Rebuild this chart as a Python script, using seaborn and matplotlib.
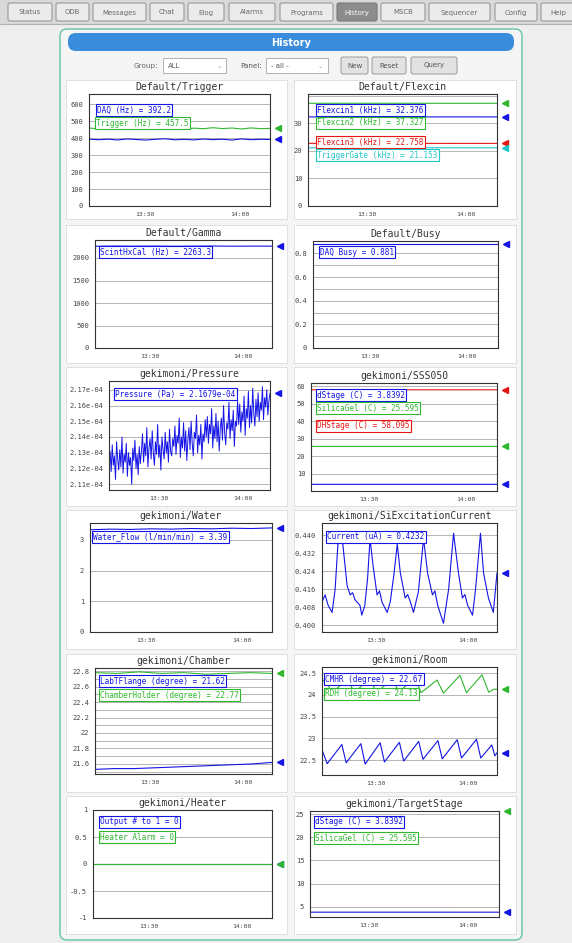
import numpy as np
import pandas as pd
import matplotlib
matplotlib.use("Agg")
import matplotlib.pyplot as plt
import matplotlib.transforms as mtransforms
from matplotlib.patches import FancyBboxPatch, Rectangle
from matplotlib.ticker import FixedLocator, FixedFormatter, MultipleLocator, NullFormatter
import seaborn as sns

sns.set_theme(style="white")
plt.rcParams["font.family"] = ["DejaVu Sans Mono", "DejaVu Sans"]
UI_FONT = ["DejaVu Sans"]

W, H = 572, 943

# ---------------- page chrome ----------------
nav_tabs = ["Status", "ODB", "Messages", "Chat", "Elog", "Alarms", "Programs",
            "History", "MSCB", "Sequencer", "Config", "Help"]
nav_active = "History"
page_title = "History"
group_label, group_value = "Group:", "ALL"
panel_label, panel_value = "Panel:", "- all -"
action_buttons = ["New", "Reset", "Query"]

# ---------------- time axis (minutes after 13:00) ----------------
t_first, t_last = 12.3, 69.5
time_tick_minutes = [30, 60]
time_tick_labels = ["13:30", "14:00"]

# ---------------- Default/Trigger ----------------
trigger_names = ["DAQ (Hz)", "Trigger (Hz)"]
trigger_readouts = ["392.2", "457.5"]
trigger_daq = [394.1, 390.6, 393.8, 389.2, 395.0, 391.7, 388.9, 393.2, 396.1, 390.4,
               392.8, 389.6, 394.7, 391.1, 393.5, 388.7, 395.3, 390.9, 393.0, 392.2]
trigger_rate = [459.3, 455.1, 461.0, 453.8, 458.2, 456.4, 462.1, 454.6, 457.9, 460.3,
                452.7, 458.8, 455.5, 461.4, 456.2, 459.6, 453.9, 460.1, 455.8, 457.5]

# ---------------- Default/Flexcin ----------------
flex_names = ["Flexcin1 (kHz)", "Flexcin2 (kHz)", "Flexcin3 (kHz)", "TriggerGate (kHz)"]
flex_readouts = ["32.376", "37.327", "22.758", "21.153"]
flex_1 = [32.37, 32.38, 32.37, 32.38, 32.376]
flex_2 = [37.33, 37.32, 37.33, 37.32, 37.327]
flex_3 = [22.76, 22.75, 22.76, 22.75, 22.758]
flex_gate = [21.15, 21.16, 21.15, 21.16, 21.153]

# ---------------- Default/Gamma ----------------
gamma_names = ["ScintHxCal (Hz)"]
gamma_readouts = ["2263.3"]
gamma_rate = [2261.0, 2265.2, 2262.4, 2264.8, 2260.9, 2263.7, 2266.1, 2262.0, 2264.3, 2263.3]

# ---------------- Default/Busy ----------------
busy_names = ["DAQ Busy"]
busy_readouts = ["0.881"]
busy_frac = [0.881, 0.881, 0.881, 0.881, 0.881]

# ---------------- gekimoni/Pressure (x 1e-4 Pa) ----------------
pressure_names = ["Pressure (Pa)"]
pressure_readouts = ["2.1679e-04"]
pressure_e4 = [
    2.124, 2.131, 2.118, 2.135, 2.122, 2.128, 2.113, 2.137, 2.126, 2.119,
    2.132, 2.121, 2.140, 2.117, 2.129, 2.124, 2.136, 2.115, 2.130, 2.122,
    2.127, 2.110, 2.133, 2.125, 2.138, 2.120, 2.129, 2.116, 2.134, 2.123,
    2.131, 2.142, 2.124, 2.136, 2.128, 2.146, 2.121, 2.133, 2.139, 2.126,
    2.144, 2.130, 2.122, 2.137, 2.129, 2.148, 2.127, 2.135, 2.119, 2.140,
    2.132, 2.126, 2.143, 2.130, 2.137, 2.124, 2.145, 2.131, 2.128, 2.139,
    2.134, 2.147, 2.129, 2.141, 2.136, 2.152, 2.127, 2.140, 2.133, 2.149,
    2.131, 2.144, 2.125, 2.138, 2.146, 2.132, 2.150, 2.136, 2.128, 2.143,
    2.139, 2.154, 2.130, 2.141, 2.135, 2.148, 2.126, 2.142, 2.137, 2.151,
    2.140, 2.153, 2.136, 2.148, 2.142, 2.158, 2.133, 2.147, 2.139, 2.155,
    2.137, 2.150, 2.131, 2.146, 2.152, 2.138, 2.160, 2.143, 2.135, 2.149,
    2.145, 2.162, 2.139, 2.151, 2.144, 2.157, 2.134, 2.150, 2.147, 2.163,
    2.148, 2.161, 2.143, 2.156, 2.150, 2.166, 2.141, 2.158, 2.152, 2.169,
    2.146, 2.160, 2.149, 2.171, 2.155, 2.147, 2.164, 2.153, 2.168, 2.150,
    2.162, 2.157, 2.172, 2.151, 2.165, 2.159, 2.170, 2.154, 2.163, 2.1679]

# ---------------- gekimoni/SSS050 and TargetStage ----------------
stage_names = ["dStage (C)", "SilicaGel (C)", "DHStage (C)"]
stage_readouts = ["3.8392", "25.595", "58.095"]
stage_d = [3.840, 3.839, 3.840, 3.839, 3.8392]
stage_silica = [25.60, 25.59, 25.60, 25.59, 25.595]
stage_dh = [58.10, 58.09, 58.10, 58.09, 58.095]

# ---------------- gekimoni/Water ----------------
water_names = ["Water_Flow (l/min/min)"]
water_readouts = ["3.39"]
water_flow = [3.33, 3.35, 3.34, 3.36, 3.35, 3.37, 3.36, 3.38, 3.37, 3.39]

# ---------------- gekimoni/SiExcitationCurrent ----------------
siexc_names = ["Current (uA)"]
siexc_readouts = ["0.4232"]
siexc_time = [12.3, 13.3, 14.3, 15.6, 16.6, 17.5, 18.3, 19.1, 20.5, 21.5, 22.3, 23.1,
              24.7, 25.3, 26.3, 27.2, 28.0, 29.0, 30.3, 31.1, 31.9, 33.6, 34.6, 35.8,
              36.9, 37.9, 39.5, 40.3, 41.2, 42.2, 43.8, 45.5, 46.8, 48.4, 49.2, 50.1,
              52.0, 53.7, 55.3, 56.9, 58.2, 59.0, 59.9, 61.5, 62.5, 64.1, 65.1, 66.7,
              68.3, 69.5]
siexc_current = [0.4102, 0.4134, 0.4088, 0.4056, 0.4160, 0.4360, 0.4368, 0.4360, 0.4176,
                 0.4134, 0.4144, 0.4112, 0.4088, 0.4044, 0.4088, 0.4208, 0.4384, 0.4264,
                 0.4134, 0.4152, 0.4102, 0.4056, 0.4102, 0.4224, 0.4360, 0.4232, 0.4120,
                 0.4136, 0.4102, 0.4056, 0.4148, 0.4384, 0.4232, 0.4134, 0.4152, 0.4088,
                 0.4008, 0.4160, 0.4408, 0.4232, 0.4120, 0.4136, 0.4088, 0.4044, 0.4160,
                 0.4408, 0.4232, 0.4120, 0.4056, 0.4232]

# ---------------- gekimoni/Chamber ----------------
chamber_names = ["LabTFlange (degree)", "ChamberHolder (degree)"]
chamber_readouts = ["21.62", "22.77"]
chamber_flange = [21.53, 21.54, 21.54, 21.55, 21.56, 21.57, 21.58, 21.59, 21.60, 21.62]
chamber_holder = [22.78, 22.77, 22.79, 22.77, 22.78, 22.76, 22.77, 22.78, 22.77]

# ---------------- gekimoni/Room ----------------
room_names = ["CMHR (degree)", "RDH (degree)"]
room_readouts = ["22.67", "24.13"]
room_a_time = [12.3, 14.0, 18.8, 20.2, 25.0, 26.4, 31.3, 32.7, 37.6, 39.0, 43.9, 45.3,
               50.2, 51.6, 56.5, 57.9, 62.8, 64.2, 67.8, 68.8, 69.5]
room_a_temp = [22.74, 22.42, 22.86, 22.44, 22.88, 22.41, 22.90, 22.46, 22.91, 22.48,
               22.93, 22.52, 22.95, 22.53, 22.97, 22.55, 22.98, 22.55, 22.85, 22.60, 22.67]
room_b_time = [12.3, 13.4, 15.5, 20.7, 22.8, 28.0, 30.1, 35.3, 37.4, 42.6, 44.7, 49.9,
               52.0, 57.4, 59.5, 64.6, 66.8, 68.5, 69.5]
room_b_temp = [24.30, 24.36, 24.04, 24.37, 24.05, 24.38, 24.04, 24.39, 24.06, 24.40,
               24.05, 24.34, 24.04, 24.45, 24.05, 24.46, 24.06, 24.13, 24.13]

# ---------------- gekimoni/Heater ----------------
heater_names = ["Output # to 1", "Heater Alarm"]
heater_readouts = ["0", "0"]
heater_output = [0, 0, 0, 0, 0]
heater_alarm = [0, 0, 0, 0, 0]

BLUE, GREEN, RED, CYAN = "#1414e6", "#2fb82f", "#e81515", "#1fc8c8"

# ============================================================
fig = plt.figure(figsize=(W / 100, H / 100), dpi=100)
fig.patch.set_facecolor("#eeeeee")


def px_rect(x0, y0, x1, y1):
    return [x0 / W, 1 - y1 / H, (x1 - x0) / W, (y1 - y0) / H]


bg = fig.add_axes([0, 0, 1, 1])
bg.set_xlim(0, W)
bg.set_ylim(H, 0)
bg.axis("off")
bg.set_zorder(-5)

# navigation bar
bg.add_patch(Rectangle((0, 0), W, 24, fc="#d9d9d9", ec="none"))
bg.plot([0, W], [24, 24], color="#b0b0b0", lw=0.8)
tab_edges = [(8, 52), (56, 89), (93, 146), (150, 184), (188, 224), (229, 275),
             (280, 333), (337, 377), (381, 425), (429, 490), (495, 537), (541, 575)]
for name, (x0, x1) in zip(nav_tabs, tab_edges):
    active = name == nav_active
    bg.add_patch(FancyBboxPatch((x0, 3), x1 - x0, 18,
                                boxstyle="round,pad=0,rounding_size=2",
                                fc="#8c8c8c" if active else "#ebebeb",
                                ec="#7a7a7a" if active else "#9a9a9a", lw=0.8))
    bg.text((x0 + x1) / 2, 12.5, name, ha="center", va="center", fontsize=5,
            family=UI_FONT, color="white" if active else "#6a6a6a")

# container
bg.add_patch(FancyBboxPatch((60, 29), 462, 911, boxstyle="round,pad=0,rounding_size=7",
                            fc="#f5f5f5", ec="#63c49c", lw=1.0))
bg.add_patch(FancyBboxPatch((68, 33), 446, 18, boxstyle="round,pad=0,rounding_size=8",
                            fc="#3a8ddc", ec="none"))
bg.text(291, 42.5, page_title, ha="center", va="center", fontsize=7, color="white",
        fontweight="bold", family=UI_FONT)

# controls row
bg.text(158, 66, group_label, ha="right", va="center", fontsize=5.2, color="#666666",
        family=UI_FONT)
bg.add_patch(Rectangle((163, 58), 63, 15, fc="white", ec="#b0b0b0", lw=0.7))
bg.text(168, 66, group_value, ha="left", va="center", fontsize=5, color="#555555",
        family=UI_FONT)
bg.text(219, 66, "\u2304", ha="center", va="center", fontsize=4.5, color="#999999",
        family=UI_FONT)
bg.text(262, 66, panel_label, ha="right", va="center", fontsize=5.2, color="#555555",
        family=UI_FONT)
bg.add_patch(Rectangle((266, 58), 62, 15, fc="white", ec="#b0b0b0", lw=0.7))
bg.text(271, 66, panel_value, ha="left", va="center", fontsize=5, color="#555555",
        family=UI_FONT)
bg.text(320, 66, "\u2304", ha="center", va="center", fontsize=4.5, color="#999999",
        family=UI_FONT)
for name, (x0, x1) in zip(action_buttons, [(341, 368), (372, 406), (411, 457)]):
    bg.add_patch(FancyBboxPatch((x0, 57), x1 - x0, 17, boxstyle="round,pad=0,rounding_size=2",
                                fc="#e2e2e2", ec="#9a9a9a", lw=0.7))
    bg.text((x0 + x1) / 2, 65.5, name, ha="center", va="center", fontsize=5,
            color="#555555", family=UI_FONT)


def draw_panel(box, axbox, title, series, ylim, yticks, yticklabels, ygrid, yminor, slots,
               lw=0.8):
    bg.add_patch(Rectangle((box[0], box[1]), box[2] - box[0], box[3] - box[1],
                           fc="white", ec="#dcdcdc", lw=0.6))
    bg.text((axbox[0] + axbox[2]) / 2, axbox[1] - 7, title, ha="center", va="center",
            fontsize=7, color="#333333")
    ax = fig.add_axes(px_rect(*axbox))
    ax.set_facecolor("white")
    for g in ygrid:
        ax.axhline(g, color="#a8a8a8", lw=0.6, zorder=0)
    trans = mtransforms.blended_transform_factory(ax.transAxes, ax.transData)
    width_px = axbox[2] - axbox[0]
    for s in series:
        t = s["t"] if "t" in s else np.linspace(t_first, t_last, len(s["v"]))
        df = pd.DataFrame({"t": t, "v": s["v"]})
        sns.lineplot(data=df, x="t", y="v", ax=ax, color=s["color"], lw=s.get("lw", lw),
                     legend=False, estimator=None, sort=False, zorder=2)
        ax.plot([1 + 8 / width_px], [float(s["readout"])], marker="<",
                ms=5, color=s["color"], transform=trans, clip_on=False, zorder=6)
    for s, (dx, dy) in zip(series, slots):
        ax.annotate(f"{s['name']} = {s['readout']}", xy=(0, 1), xycoords="axes fraction",
                    xytext=(dx, -dy), textcoords="offset pixels", ha="left", va="center",
                    fontsize=5.6, color=s["color"], zorder=7, annotation_clip=False,
                    bbox=dict(boxstyle="square,pad=0.18", fc="white", ec=s["color"], lw=0.8))
    ax.set_xlim(t_first, t_last)
    ax.set_ylim(*ylim)
    ax.xaxis.set_major_locator(FixedLocator(time_tick_minutes))
    ax.xaxis.set_major_formatter(FixedFormatter(time_tick_labels))
    ax.xaxis.set_minor_locator(MultipleLocator(5))
    ax.yaxis.set_major_locator(FixedLocator(yticks))
    ax.yaxis.set_major_formatter(FixedFormatter(yticklabels))
    ax.yaxis.set_minor_locator(MultipleLocator(yminor))
    ax.yaxis.set_minor_formatter(NullFormatter())
    ax.tick_params(axis="y", which="major", labelsize=5, length=3, width=0.6,
                   color="#333333", labelcolor="#444444", pad=1.2)
    ax.tick_params(axis="x", which="major", labelsize=4.6, length=3, width=0.6,
                   color="#333333", labelcolor="#444444", pad=1.5)
    ax.tick_params(axis="both", which="minor", length=1.6, width=0.5, color="#333333")
    ax.set_xlabel("")
    ax.set_ylabel("")
    for sp in ax.spines.values():
        sp.set_visible(True)
        sp.set_color("#333333")
        sp.set_linewidth(0.8)
    return ax


def mk(names, readouts, values, colors, **kw):
    out = []
    for n, r, v, c in zip(names, readouts, values, colors):
        d = dict(name=n, readout=r, v=v, color=c)
        d.update(kw)
        out.append(d)
    return out


L_BOX, R_BOX = (66, 287), (294, 516)
rows = [(80, 219), (225, 363), (367, 506), (510, 649), (654, 792), (796, 934)]

# row 1
draw_panel((L_BOX[0], rows[0][0], L_BOX[1], rows[0][1]), (89, 94, 270, 206), "Default/Trigger",
           mk(trigger_names, trigger_readouts, [trigger_daq, trigger_rate], [BLUE, GREEN]),
           (0, 660), [0, 100, 200, 300, 400, 500, 600],
           ["0", "100", "200", "300", "400", "500", "600"], [100, 200, 300, 400, 500, 600], 20,
           [(8, 16), (7, 29)])
draw_panel((R_BOX[0], rows[0][0], R_BOX[1], rows[0][1]), (308, 94, 497, 206), "Default/Flexcin",
           mk(flex_names, flex_readouts, [flex_1, flex_2, flex_3, flex_gate],
              [BLUE, GREEN, RED, CYAN]),
           (0, 40.7), [0, 10, 20, 30], ["0", "10", "20", "30"], [10, 20, 30, 40], 2,
           [(9, 16), (9, 29), (9, 48), (9, 61)])
# row 2
draw_panel((L_BOX[0], rows[1][0], L_BOX[1], rows[1][1]), (95, 240, 272, 348), "Default/Gamma",
           mk(gamma_names, gamma_readouts, [gamma_rate], [BLUE]),
           (0, 2400), [0, 500, 1000, 1500, 2000], ["0", "500", "1000", "1500", "2000"],
           [500, 1000, 1500, 2000], 100, [(5, 12)])
draw_panel((R_BOX[0], rows[1][0], R_BOX[1], rows[1][1]), (313, 241, 498, 348), "Default/Busy",
           mk(busy_names, busy_readouts, [busy_frac], [BLUE]),
           (0, 0.905), [0, 0.2, 0.4, 0.6, 0.8], ["0", "0.2", "0.4", "0.6", "0.8"],
           [0.1, 0.2, 0.3, 0.4, 0.5, 0.6, 0.7, 0.8], 0.05, [(7, 11)])
# row 3
draw_panel((L_BOX[0], rows[2][0], L_BOX[1], rows[2][1]), (109, 381, 270, 490), "gekimoni/Pressure",
           mk(pressure_names, pressure_readouts, [[p * 1e-4 for p in pressure_e4]], [BLUE],
              lw=0.7),
           (2.1063e-4, 2.1756e-4), [2.11e-4, 2.12e-4, 2.13e-4, 2.14e-4, 2.15e-4, 2.16e-4, 2.17e-4],
           ["2.11e-04", "2.12e-04", "2.13e-04", "2.14e-04", "2.15e-04", "2.16e-04", "2.17e-04"],
           [2.11e-4, 2.12e-4, 2.13e-4, 2.14e-4, 2.15e-4, 2.16e-4, 2.17e-4], 0.002e-4, [(6, 13)])
draw_panel((R_BOX[0], rows[2][0], R_BOX[1], rows[2][1]), (311, 383, 497, 491), "gekimoni/SSS050",
           mk(stage_names, stage_readouts, [stage_d, stage_silica, stage_dh], [BLUE, GREEN, RED]),
           (0, 62), [10, 20, 30, 40, 50, 60], ["10", "20", "30", "40", "50", "60"],
           [10, 20, 30, 40, 50, 60], 2, [(6, 12), (6, 25), (6, 43)])
# row 4
draw_panel((L_BOX[0], rows[3][0], L_BOX[1], rows[3][1]), (90, 523, 272, 632), "gekimoni/Water",
           mk(water_names, water_readouts, [water_flow], [BLUE]),
           (0, 3.55), [0, 1, 2, 3], ["0", "1", "2", "3"], [1, 2, 3], 0.1, [(3, 14)])
draw_panel((R_BOX[0], rows[3][0], R_BOX[1], rows[3][1]), (322, 523, 497, 632),
           "gekimoni/SiExcitationCurrent",
           [dict(name=siexc_names[0], readout=siexc_readouts[0], v=siexc_current,
                 t=siexc_time, color=BLUE)],
           (0.3969, 0.4454), [0.400, 0.408, 0.416, 0.424, 0.432, 0.440],
           ["0.400", "0.408", "0.416", "0.424", "0.432", "0.440"],
           [0.400, 0.408, 0.416, 0.424, 0.432, 0.440], 0.002, [(5, 14)])
# row 5
draw_panel((L_BOX[0], rows[4][0], L_BOX[1], rows[4][1]), (95, 668, 272, 774), "gekimoni/Chamber",
           mk(chamber_names, chamber_readouts, [chamber_flange, chamber_holder], [BLUE, GREEN]),
           (21.47, 22.84), [21.6, 21.8, 22.0, 22.2, 22.4, 22.6, 22.8],
           ["21.6", "21.8", "22", "22.2", "22.4", "22.6", "22.8"],
           [21.5, 21.6, 21.7, 21.8, 21.9, 22.0, 22.1, 22.2, 22.3, 22.4, 22.5, 22.6, 22.7, 22.8],
           0.05, [(5, 13), (5, 27)])
draw_panel((R_BOX[0], rows[4][0], R_BOX[1], rows[4][1]), (322, 667, 497, 775), "gekimoni/Room",
           [dict(name=room_names[0], readout=room_readouts[0], v=room_a_temp, t=room_a_time,
                 color=BLUE),
            dict(name=room_names[1], readout=room_readouts[1], v=room_b_temp, t=room_b_time,
                 color=GREEN)],
           (22.16, 24.64), [22.5, 23, 23.5, 24, 24.5], ["22.5", "23", "23.5", "24", "24.5"],
           [22.5, 23, 23.5, 24, 24.5], 0.1, [(3, 12), (3, 27)])
# row 6
draw_panel((L_BOX[0], rows[5][0], L_BOX[1], rows[5][1]), (93, 810, 272, 918), "gekimoni/Heater",
           mk(heater_names, heater_readouts, [heater_output, heater_alarm], [BLUE, GREEN]),
           (-1, 1), [-1, -0.5, 0, 0.5, 1], ["-1", "-0.5", "0", "0.5", "1"],
           [-0.5, 0, 0.5], 0.1, [(7, 12), (7, 27)])
draw_panel((R_BOX[0], rows[5][0], R_BOX[1], rows[5][1]), (310, 811, 499, 917),
           "gekimoni/TargetStage",
           mk(stage_names[:2], stage_readouts[:2], [stage_d, stage_silica], [BLUE, GREEN]),
           (2.8, 25.65), [5, 10, 15, 20, 25], ["5", "10", "15", "20", "25"],
           [5, 10, 15, 20, 25], 1, [(5, 11), (5, 27)])

fig.savefig("out.png", dpi=100, facecolor=fig.get_facecolor())
